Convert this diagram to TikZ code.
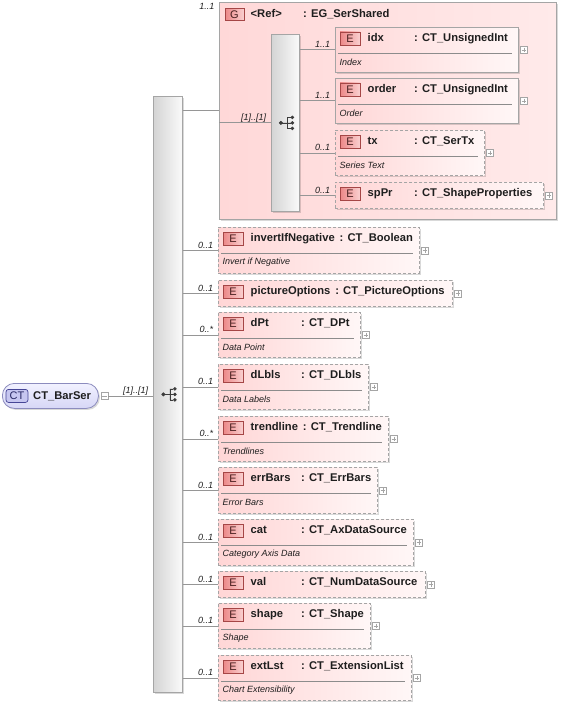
\documentclass[tikz,border=0pt]{standalone}
\usepackage{fontspec}
\setmainfont{Liberation Sans}
\usetikzlibrary{shadows}

\definecolor{boxpink}{RGB}{255,214,214}
\definecolor{boxwhite}{RGB}{255,247,247}
\definecolor{grppink}{RGB}{255,216,216}
\definecolor{grplight}{RGB}{255,234,234}
\definecolor{boxframe}{RGB}{165,165,165}
\definecolor{edgegray}{RGB}{150,150,150}
\definecolor{sepgray}{RGB}{140,140,140}
\definecolor{seqdark}{RGB}{212,212,212}
\definecolor{seqlight}{RGB}{250,250,250}
\definecolor{badgedark}{RGB}{236,135,135}
\definecolor{badgelight}{RGB}{250,208,208}
\definecolor{badgeframe}{RGB}{165,70,70}
\definecolor{badgetext}{RGB}{70,30,30}
\definecolor{textdark}{RGB}{30,30,30}
\definecolor{icongray}{RGB}{60,60,60}
\definecolor{ctlight}{RGB}{242,242,255}
\definecolor{ctfill}{RGB}{214,214,246}
\definecolor{ctframe}{RGB}{140,140,190}
\definecolor{ctbadge}{RGB}{198,198,240}
\definecolor{ctbadgeframe}{RGB}{70,70,150}
\definecolor{ctbadgetext}{RGB}{40,40,100}

\begin{document}
\begin{tikzpicture}[x=1pt,y=-1pt]
    \tikzstyle{edge}=[draw=edgegray,line width=0.8pt]
    \tikzstyle{shade}=[drop shadow={shadow xshift=1.5pt,shadow yshift=-1.5pt,fill=black,opacity=0.15}]
    \tikzstyle{box}=[anchor=north west,draw=boxframe,line width=0.8pt,left color=boxpink,right color=boxwhite,inner sep=0pt,shade]
    \tikzstyle{req}=[solid]
    \tikzstyle{opt}=[dash pattern=on 3pt off 2pt]
    \tikzstyle{grp}=[anchor=north west,draw=boxframe,line width=0.8pt,left color=grppink,right color=grplight,inner sep=0pt,shade]
    \tikzstyle{seq}=[anchor=north west,draw=boxframe,line width=0.8pt,left color=seqdark,right color=seqlight,inner sep=0pt,shade]
    \tikzstyle{badge}=[draw=badgeframe,line width=0.7pt,left color=badgedark,right color=badgelight,minimum width=20pt,minimum height=13pt,inner sep=0pt,text=badgetext,font=\fontsize{11}{13}\selectfont]
    \tikzstyle{elname}=[anchor=west,inner sep=0pt,text=textdark,font=\fontsize{11.2}{13}\selectfont\bfseries]
    \tikzstyle{eldesc}=[anchor=west,inner sep=0pt,text=textdark,font=\fontsize{9}{11}\selectfont\itshape]
    \tikzstyle{descline}=[draw=sepgray,line width=0.7pt]
    \tikzstyle{cardtext}=[inner sep=0.5pt,text depth=0pt,text=textdark,font=\fontsize{9}{11}\selectfont\itshape]
    \tikzstyle{card}=[cardtext,pos=1,anchor=south east,xshift=-4pt,yshift=1.5pt]
    \tikzstyle{plusbox}=[draw=boxframe,fill=white,line width=0.6pt,minimum size=7pt,inner sep=0pt,path picture={\draw[boxframe,line width=0.6pt] ([xshift=1.2pt]path picture bounding box.west) -- ([xshift=-1.2pt]path picture bounding box.east) ([yshift=-1.2pt]path picture bounding box.north) -- ([yshift=1.2pt]path picture bounding box.south);}]
    \tikzstyle{minusbox}=[draw=boxframe,fill=white,line width=0.6pt,minimum size=7pt,inner sep=0pt,path picture={\draw[boxframe,line width=0.6pt] ([xshift=1.2pt]path picture bounding box.west) -- ([xshift=-1.2pt]path picture bounding box.east);}]
    \tikzstyle{icon}=[draw=icongray,fill=icongray,line width=0.7pt]
    \tikzstyle{ctnode}=[anchor=north west,draw=ctframe,line width=0.8pt,top color=ctlight,bottom color=ctfill,rounded corners=12pt,minimum width=96pt,minimum height=25pt,inner sep=0pt,shade]
    \tikzstyle{ctbadge}=[draw=ctbadgeframe,fill=ctbadge,rounded corners=2.5pt,line width=0.7pt,minimum width=22pt,minimum height=13pt,inner sep=0pt,text=ctbadgetext,font=\fontsize{11}{13}\selectfont]

    \def\namebox#1{\setbox0=\hbox{#1\hspace{5pt}}\ifdim\wd0<\namew\relax\wd0=\namew\relax\fi\box0}

    \def\elem#1#2#3#4#5#6#7#8{%
        \node[box,#2,minimum width=#4pt,minimum height=#5pt] (#1) at #3 {};
        \node[badge] (#1badge) at ([shift={(15,11.5)}]#1.north west) {E};
        \node[elname] (#1name) at ([shift={(32.5,11.5)}]#1.north west) {\namebox{#6}: #7};
        \ifx\relax#8\relax\else
            \path[descline] ([shift={(3,26)}]#1.north west) -- ([shift={(-7,26)}]#1.north east);
            \node[eldesc] (#1desc) at ([shift={(4.5,35)}]#1.north west) {#8};
        \fi
        \node[plusbox] (#1plus) at ([shift={(5,0)}]#1.east) {};
    }

    \def\seqicon#1{%
        \fill[icon] ([shift={(-4.5,0)}]#1.center) circle (1.6);
        \draw[icon] ([shift={(-4.5,0)}]#1.center) -- ([shift={(2,0)}]#1.center)
            ([shift={(2,-5.5)}]#1.center) -- ([shift={(2,5.5)}]#1.center);
        \foreach \dy in {-5.5,0,5.5} {
            \draw[icon] ([shift={(2,\dy)}]#1.center) -- ([shift={(5.5,\dy)}]#1.center);
            \fill[icon] ([shift={(7,\dy)}]#1.center) circle (1.4);
        }
    }

    \useasboundingbox (0,0) rectangle (563,706);

    \node[ctnode] (barser) at (2,383) {};
    \node[ctbadge] (barserbadge) at ([shift={(15,0)}]barser.west) {CT};
    \node[elname] (barsername) at ([shift={(31,0)}]barser.west) {CT\_BarSer};
    \node[minusbox] (barserminus) at ([shift={(5.5,0)}]barser.east) {};

    \node[seq,minimum width=29pt,minimum height=596pt] (seq) at (153,96) {};
    \seqicon{seq}

    \node[grp,minimum width=337pt,minimum height=217pt] (grp) at (219,2) {};
    \node[cardtext,anchor=north east] (grpcard) at ([shift={(-4,1)}]grp.north west) {1..1};
    \node[badge,minimum width=19pt,minimum height=12pt] (grpbadge) at ([shift={(15.5,12.5)}]grp.north west) {G};
    \def\namew{52.5pt}
    \node[elname] (grpname) at ([shift={(31.5,12.5)}]grp.north west) {\namebox{<Ref>}: EG\_SerShared};
    \node[seq,minimum width=28pt,minimum height=177pt] (gseq) at (271,34) {};
    \seqicon{gseq}

    \def\namew{46.5pt}
    \elem{idx}{req}{(335,27)}{183}{45}{idx}{CT\_UnsignedInt}{Index}
    \elem{order}{req}{(335,78)}{183}{45}{order}{CT\_UnsignedInt}{Order}
    \elem{tx}{opt}{(335,130)}{149}{45}{tx}{CT\_SerTx}{Series Text}
    \elem{spPr}{opt}{(335,182)}{208}{26}{spPr}{CT\_ShapeProperties}{}

    \def\namew{50.5pt}
    \elem{invertIfNegative}{opt}{(218,227)}{201}{46}{invertIfNegative}{CT\_Boolean}{Invert if Negative}
    \elem{pictureOptions}{opt}{(218,280)}{234}{26}{pictureOptions}{CT\_PictureOptions}{}
    \elem{dPt}{opt}{(218,312)}{142}{45}{dPt}{CT\_DPt}{Data Point}
    \elem{dLbls}{opt}{(218,364)}{150}{45}{dLbls}{CT\_DLbls}{Data Labels}
    \elem{trendline}{opt}{(218,416)}{170}{45}{trendline}{CT\_Trendline}{Trendlines}
    \elem{errBars}{opt}{(218,467)}{159}{46}{errBars}{CT\_ErrBars}{Error Bars}
    \elem{cat}{opt}{(218,519)}{195}{46}{cat}{CT\_AxDataSource}{Category Axis Data}
    \elem{val}{opt}{(218,571)}{207}{26}{val}{CT\_NumDataSource}{}
    \elem{shape}{opt}{(218,603)}{152}{45}{shape}{CT\_Shape}{Shape}
    \elem{extLst}{opt}{(218,655)}{193}{45}{extLst}{CT\_ExtensionList}{Chart Extensibility}

    \path[edge] (barserminus) -- node[card] {[1]..[1]} (barserminus -| seq.west);

    \path[edge] (seq.east |- grp.west) -- (grp.west);
    \path[edge] (grp.west |- gseq.west) -- node[card] {[1]..[1]} (gseq.west);

    \path[edge] (gseq.east |- idx.west) -- node[card] {1..1} (idx.west);
    \path[edge] (gseq.east |- order.west) -- node[card] {1..1} (order.west);
    \path[edge] (gseq.east |- tx.west) -- node[card] {0..1} (tx.west);
    \path[edge] (gseq.east |- spPr.west) -- node[card] {0..1} (spPr.west);

    \path[edge] (seq.east |- invertIfNegative.west) -- node[card] {0..1} (invertIfNegative.west);
    \path[edge] (seq.east |- pictureOptions.west) -- node[card] {0..1} (pictureOptions.west);
    \path[edge] (seq.east |- dPt.west) -- node[card] {0..*} (dPt.west);
    \path[edge] (seq.east |- dLbls.west) -- node[card] {0..1} (dLbls.west);
    \path[edge] (seq.east |- trendline.west) -- node[card] {0..*} (trendline.west);
    \path[edge] (seq.east |- errBars.west) -- node[card] {0..1} (errBars.west);
    \path[edge] (seq.east |- cat.west) -- node[card] {0..1} (cat.west);
    \path[edge] (seq.east |- val.west) -- node[card] {0..1} (val.west);
    \path[edge] (seq.east |- shape.west) -- node[card] {0..1} (shape.west);
    \path[edge] (seq.east |- extLst.west) -- node[card] {0..1} (extLst.west);
\end{tikzpicture}
\end{document}
